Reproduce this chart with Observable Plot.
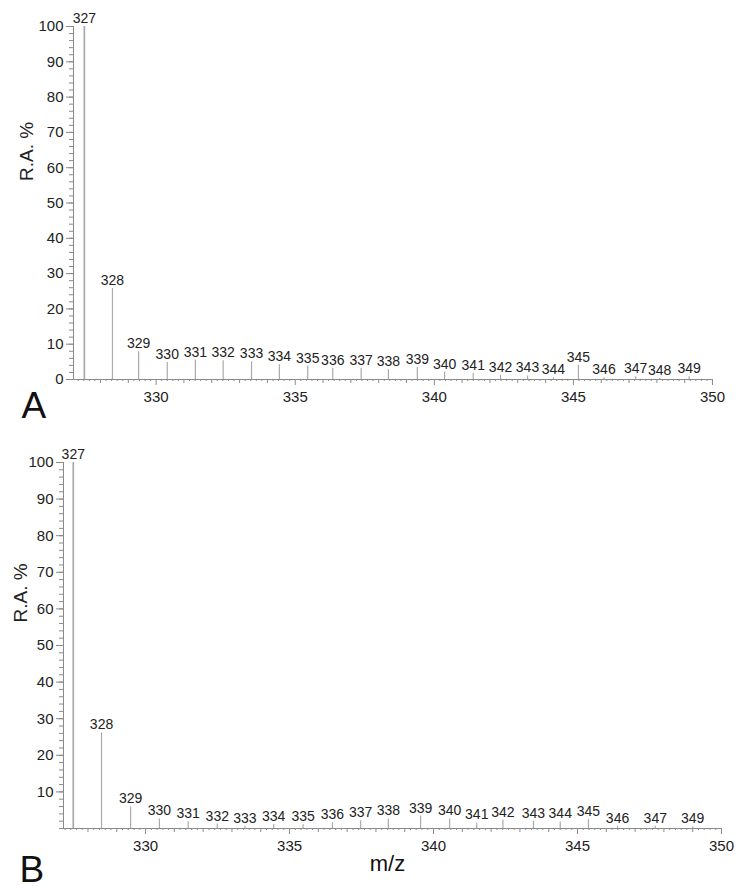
<!DOCTYPE html>
<html>
<head>
<meta charset="utf-8">
<script src="https://cdn.jsdelivr.net/npm/d3@7"></script>
<script src="https://cdn.jsdelivr.net/npm/@observablehq/plot@0.6"></script>
<style>
  html, body { margin: 0; padding: 0; background: #fff; }
  #chart svg { display: block; }
</style>
</head>
<body>
<div id="chart"></div>
<script>
// Panel A data
const mzA = [327.42, 328.43, 329.37, 330.40, 331.41, 332.41, 333.43, 334.43, 335.45, 336.35, 337.37, 338.35, 339.39, 340.37, 341.40, 342.38, 343.35, 344.28, 345.18, 346.1, 347.24, 348.1, 349.16];
const raA = [100, 25.8, 7.8, 4.8, 5.5, 5.3, 5.0, 4.2, 3.8, 3.2, 3.2, 2.8, 3.4, 2.1, 1.7, 1.2, 1.0, 0.5, 4.0, 0.5, 0.8, 0.3, 0.8];
const labelsA = ["327","328","329","330","331","332","333","334","335","336","337","338","339","340","341","342","343","344","345","346","347","348","349"];

// Panel B data
const mzB = [327.49, 328.47, 329.48, 330.48, 331.48, 332.49, 333.45, 334.45, 335.47, 336.49, 337.47, 338.43, 339.55, 340.56, 341.5, 342.41, 343.47, 344.4, 345.38, 346.39, 347.7, 349.0];
const raB = [100, 26.1, 5.9, 2.6, 1.8, 1.2, 0.6, 1.1, 1.0, 1.6, 2.1, 2.6, 3.4, 2.6, 1.5, 2.3, 2.0, 1.8, 2.4, 0.6, 0.6, 0.5];
const labelsB = ["327","328","329","330","331","332","333","334","335","336","337","338","339","340","341","342","343","344","345","346","347","349"];

const xTickLabels = [330, 335, 340, 345, 350];
const yTicksA = [0, 10, 20, 30, 40, 50, 60, 70, 80, 90, 100];
const yTicksB = [10, 20, 30, 40, 50, 60, 70, 80, 90, 100];

const fontFamily = "'Liberation Sans', Arial, Helvetica, sans-serif";

function panel(o) {
  const peaks = o.mz.map((m, i) => ({mz: m, ra: o.ra[i], label: o.labels[i]}));
  const [x0, x1] = o.xDomain;
  const minor = d3.range(Math.ceil(x0 * 5), Math.floor(x1 * 5) + 1).map(d => d / 5).filter(d => Math.abs(d - Math.round(d)) > 1e-6);
  const ints = d3.range(Math.ceil(x0), Math.floor(x1) + 1).filter(d => d % 5 !== 0);
  return Plot.plot({
    width: 738,
    height: o.height,
    marginLeft: o.ml, marginRight: o.mr, marginTop: o.mt, marginBottom: o.mb,
    x: {domain: o.xDomain},
    y: {domain: [0, 100]},
    style: {fontFamily, color: "#222", background: "#fff"},
    marks: [
      Plot.axisY({ticks: d3.range(0, 101, 2), tickSize: 4, tickFormat: () => "", stroke: "#8a8a8a", label: null}),
      Plot.axisY({ticks: o.yTicks, tickSize: 7, tickPadding: 3, fontSize: 15, stroke: "#8a8a8a", fill: "#222", label: null}),
      Plot.axisX({ticks: minor, tickSize: 2, tickFormat: () => "", stroke: "#8a8a8a", label: null}),
      Plot.axisX({ticks: ints, tickSize: 4, tickFormat: () => "", stroke: "#8a8a8a", label: null}),
      Plot.axisX({ticks: xTickLabels, tickSize: 6, tickPadding: 6, fontSize: 15, stroke: "#8a8a8a", fill: "#222", label: null}),
      Plot.ruleY([0], {stroke: "#8a8a8a"}),
      Plot.ruleX([x0], {stroke: "#8a8a8a"}),
      Plot.ruleX(peaks, {x: "mz", y1: 0, y2: "ra", stroke: "#aaaaaa", strokeWidth: d => d.ra >= 99 ? 1.7 : 1.2}),
      Plot.text(peaks, {x: "mz", y: "ra", text: "label", lineAnchor: "middle", dy: -8, fontSize: 14, fill: "#222"}),
      Plot.text(["R.A. %"], {frameAnchor: "left", rotate: -90, dx: o.yLabelDx, dy: o.yLabelDy, fontSize: 19, fill: "#222"}),
      Plot.text([o.letter], {frameAnchor: "bottom-left", lineAnchor: "middle", dx: o.letterDx, dy: o.letterDy, fontSize: 37, fill: "#111"}),
      ...(o.xLabel ? [Plot.text([o.xLabel], {frameAnchor: "bottom", lineAnchor: "middle", dx: -5, dy: 35, fontSize: 22, fill: "#111"})] : [])
    ]
  });
}

const chart = document.getElementById("chart");
chart.append(panel({
  mz: mzA, ra: raA, labels: labelsA, xDomain: [327.03, 350], yTicks: yTicksA,
  height: 445, ml: 73, mr: 26, mt: 26, mb: 66,
  yLabelDx: -47, yLabelDy: -22, letter: "A", letterDx: -52, letterDy: 27
}));
chart.append(panel({
  mz: mzB, ra: raB, labels: labelsB, xDomain: [327.15, 350], yTicks: yTicksB,
  height: 446, ml: 63, mr: 17, mt: 17, mb: 63,
  yLabelDx: -43, yLabelDy: -23, letter: "B", letterDx: -44, letterDy: 42, xLabel: "m/z"
}));
</script>
</body>
</html>
